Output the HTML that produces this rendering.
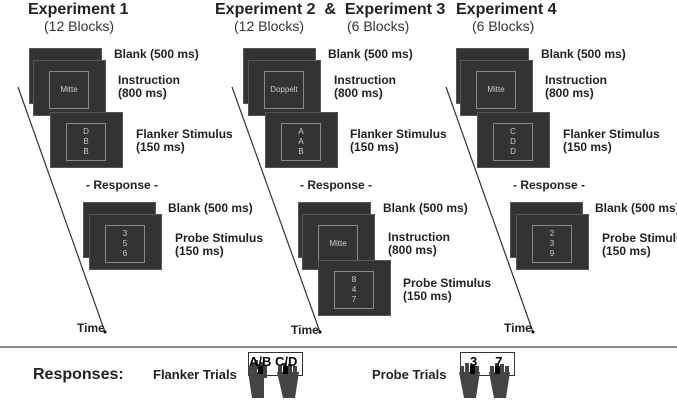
<!DOCTYPE html>
<html><head><style>
body{margin:0;width:677px;height:404px;background:#fff;position:relative;overflow:hidden;font-family:"Liberation Sans",sans-serif;}
.a{position:absolute;white-space:nowrap;}
.h{font-weight:bold;font-size:16px;color:#222;}
.s{font-size:14px;color:#333;}
.l{font-weight:bold;font-size:12px;color:#222;line-height:13px;}
.scr{position:absolute;width:73px;height:56px;background:#333;border:1px solid #555;box-sizing:border-box;}
.in{position:absolute;left:15px;top:10px;width:40px;height:38px;border:1px solid #888;box-sizing:border-box;color:#ccc;font-size:8px;text-align:center;display:flex;align-items:center;justify-content:center;line-height:10px;}
</style></head><body>
<svg width="677" height="404" style="position:absolute;left:0;top:0">
<g stroke="#333" stroke-width="1.2">
<line x1="18" y1="87" x2="105" y2="332"/>
<line x1="232" y1="87" x2="320" y2="332"/>
<line x1="446" y1="87" x2="533" y2="332"/>
</g>
<g fill="#000"><circle cx="105" cy="332" r="1.5"/><circle cx="320" cy="332" r="1.5"/><circle cx="533" cy="332" r="1.5"/></g>
<line x1="0" y1="347" x2="677" y2="347" stroke="#666" stroke-width="1.5"/>
<rect x="248.5" y="352.5" width="54" height="23" fill="#fff" stroke="#333"/>
<rect x="460.5" y="352.5" width="54" height="23" fill="#fff" stroke="#333"/>
<g fill="#444">
<path d="M248 372 h16 v26 h-12z M250 370 v-6 h3 v8 M255 366 v-6 h3 v10 M260 366 v-4 h3 v10"/>
<rect x="248" y="366" width="4" height="10"/><rect x="253" y="363" width="4" height="12"/><rect x="258" y="364" width="4" height="12"/><rect x="263" y="366" width="4" height="12"/>
<rect x="278" y="366" width="4" height="10"/><rect x="283" y="363" width="4" height="12"/><rect x="288" y="364" width="4" height="12"/><rect x="293" y="366" width="4" height="12"/>
<path d="M277 372 h22 l-4 26 h-12z"/>
<rect x="460" y="366" width="4" height="10"/><rect x="465" y="363" width="4" height="12"/><rect x="470" y="364" width="4" height="12"/><rect x="475" y="366" width="4" height="12"/>
<path d="M459 372 h21 l-4 26 h-12z"/>
<rect x="490" y="366" width="4" height="10"/><rect x="495" y="363" width="4" height="12"/><rect x="500" y="364" width="4" height="12"/><rect x="505" y="366" width="4" height="12"/>
<path d="M489 372 h21 l-4 26 h-12z"/>
</g>
<g fill="#000"><rect x="258" y="366" width="5" height="8"/><rect x="283" y="366" width="5" height="8"/><rect x="470" y="366" width="5" height="8"/><rect x="495" y="366" width="5" height="8"/></g>
</svg>
<div class="a" style="left:249px;top:354px;font-weight:bold;font-size:13px">A/B C/D</div>
<div class="a" style="left:470px;top:354px;font-weight:bold;font-size:13px">3&nbsp;&nbsp;&nbsp;&nbsp;&nbsp;7</div>

<div class="a h" style="left:28px;top:1px">Experiment 1</div>
<div class="a s" style="left:44px;top:18px">(12 Blocks)</div>
<div class="a h" style="left:215px;top:1px">Experiment 2 &nbsp;&amp;&nbsp; Experiment 3</div>
<div class="a s" style="left:234px;top:18px">(12 Blocks)</div>
<div class="a s" style="left:347px;top:18px">(6 Blocks)</div>
<div class="a h" style="left:456px;top:1px">Experiment 4</div>
<div class="a s" style="left:472px;top:18px">(6 Blocks)</div>

<!-- Exp1 -->
<div class="scr" style="left:29px;top:48px"></div>
<div class="scr" style="left:33px;top:60px"><div class="in">Mitte</div></div>
<div class="scr" style="left:50px;top:112px"><div class="in">D<br>B<br>B</div></div>
<div class="a l" style="left:114px;top:48px">Blank (500 ms)</div>
<div class="a l" style="left:118px;top:74px">Instruction<br>(800 ms)</div>
<div class="a l" style="left:136px;top:128px">Flanker Stimulus<br>(150 ms)</div>
<div class="a l" style="left:86px;top:179px">- Response -</div>
<div class="scr" style="left:83px;top:202px"></div>
<div class="scr" style="left:89px;top:214px"><div class="in">3<br>5<br>6</div></div>
<div class="a l" style="left:168px;top:202px">Blank (500 ms)</div>
<div class="a l" style="left:175px;top:232px">Probe Stimulus<br>(150 ms)</div>
<div class="a l" style="left:77px;top:322px">Time</div>

<!-- Exp2 -->
<div class="scr" style="left:243px;top:48px"></div>
<div class="scr" style="left:248px;top:60px"><div class="in">Doppelt</div></div>
<div class="scr" style="left:265px;top:112px"><div class="in">A<br>A<br>B</div></div>
<div class="a l" style="left:328px;top:48px">Blank (500 ms)</div>
<div class="a l" style="left:334px;top:74px">Instruction<br>(800 ms)</div>
<div class="a l" style="left:350px;top:128px">Flanker Stimulus<br>(150 ms)</div>
<div class="a l" style="left:300px;top:179px">- Response -</div>
<div class="scr" style="left:298px;top:202px"></div>
<div class="scr" style="left:302px;top:214px"><div class="in">Mitte</div></div>
<div class="scr" style="left:318px;top:260px"><div class="in">8<br>4<br>7</div></div>
<div class="a l" style="left:383px;top:202px">Blank (500 ms)</div>
<div class="a l" style="left:388px;top:231px">Instruction<br>(800 ms)</div>
<div class="a l" style="left:403px;top:277px">Probe Stimulus<br>(150 ms)</div>
<div class="a l" style="left:291px;top:324px">Time</div>

<!-- Exp4 -->
<div class="scr" style="left:456px;top:48px"></div>
<div class="scr" style="left:460px;top:60px"><div class="in">Mitte</div></div>
<div class="scr" style="left:477px;top:112px"><div class="in">C<br>D<br>D</div></div>
<div class="a l" style="left:541px;top:48px">Blank (500 ms)</div>
<div class="a l" style="left:545px;top:74px">Instruction<br>(800 ms)</div>
<div class="a l" style="left:563px;top:128px">Flanker Stimulus<br>(150 ms)</div>
<div class="a l" style="left:513px;top:179px">- Response -</div>
<div class="scr" style="left:510px;top:202px"></div>
<div class="scr" style="left:516px;top:214px"><div class="in">2<br>3<br>9</div></div>
<div class="a l" style="left:595px;top:202px">Blank (500 ms)</div>
<div class="a l" style="left:602px;top:232px">Probe Stimulus<br>(150 ms)</div>
<div class="a l" style="left:504px;top:322px">Time</div>

<div class="a" style="left:33px;top:366px;font-weight:bold;font-size:16px;color:#222">Responses:</div>
<div class="a l" style="left:153px;top:368px;font-size:13px">Flanker Trials</div>
<div class="a l" style="left:372px;top:368px;font-size:13px">Probe Trials</div>
</body></html>
